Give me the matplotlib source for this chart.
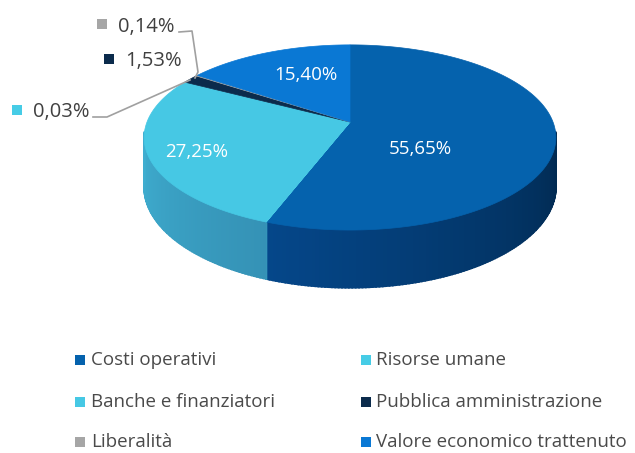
import numpy as np
import matplotlib
matplotlib.use("Agg")
import matplotlib.pyplot as plt
from matplotlib.patches import Polygon, Rectangle
from matplotlib.colors import to_rgb

categories = ["Costi operativi", "Risorse umane", "Banche e finanziatori",
              "Pubblica amministrazione", "Liberalità", "Valore economico trattenuto"]
values = [55.65, 0.03, 27.25, 1.53, 0.14, 15.40]
labels = ["55,65%", "0,03%", "27,25%", "1,53%", "0,14%", "15,40%"]
top_colors = ["#0562ad", "#46cce6", "#46c8e4", "#0b2b4c", "#a6a6a6", "#0a78d4"]
side_right = ["#01284d", "#3495b8", "#3592b6", "#061a30", "#808080", "#065aa0"]
side_left = ["#05478a", "#3bb0d0", "#3faed0", "#0a2644", "#909090", "#0868b8"]

plt.rcParams['font.family'] = ['Open Sans', 'DejaVu Sans']
fig = plt.figure(figsize=(6.35, 4.53), dpi=100)
ax = fig.add_axes([0, 0, 1, 1])
ax.set_xlim(0, 635)
ax.set_ylim(453, 0)
ax.axis('off')

# perspective pie geometry
vx, vy = 350, 122
A, B, K, D = 203, 90, 0.167, 48

def pt(theta_deg):
    t = np.radians(theta_deg)
    u, s = np.cos(t), np.sin(t)
    return vx + A * s / (1 + K * u), vy - B * u / (1 + K * u)

def dep(theta_deg):
    return D / (1 + K * np.cos(np.radians(theta_deg)))

total = sum(values)
angles = np.concatenate([[0], np.cumsum(values) / total * 360])

# side faces
lo, hi = 96, 264
for i in range(len(values)):
    s, e = max(angles[i], lo), min(angles[i + 1], hi)
    if e <= s:
        continue
    n = max(2, int((e - s) / 0.8))
    ts = np.linspace(s, e, n + 1)
    c_r = np.array(to_rgb(side_right[i]))
    c_l = np.array(to_rgb(side_left[i]))
    for k in range(n):
        t0, t1 = ts[k], ts[k + 1]
        x0, y0 = pt(t0)
        x1, y1 = pt(t1)
        f = ((0.5 * (t0 + t1)) - s) / max(e - s, 1e-9)
        col = c_r * (1 - f) + c_l * f
        ax.add_patch(Polygon([[x0, y0], [x1, y1], [x1, y1 + dep(t1)], [x0, y0 + dep(t0)]],
                             closed=True, facecolor=col, edgecolor=col, lw=1.3))

# top faces
for i in range(len(values)):
    ts = np.linspace(angles[i], angles[i + 1], max(3, int(values[i] * 4)))
    pts = [[vx, vy]] + [list(pt(t)) for t in ts]
    ax.add_patch(Polygon(pts, closed=True, facecolor=top_colors[i],
                         edgecolor=top_colors[i], lw=0.5))

# inner labels
inner = {0: (420, 149), 2: (197, 152), 5: (306, 75)}
for i, (x, y) in inner.items():
    ax.text(x, y, labels[i], color="white", fontsize=13.5, ha="center", va="center")

# outer labels with markers
outer = {4: (102, 24, 118, 27), 3: (109, 59, 125, 61), 1: (17, 110, 33, 112)}
for i, (sx, sy, tx, ty) in outer.items():
    ax.add_patch(Rectangle((sx - 5, sy - 5), 10, 10, facecolor=top_colors[i], edgecolor="none"))
    ax.text(tx, ty, labels[i], color="#404040", fontsize=14.5, ha="left", va="center")

# leader lines
lc = "#a0a0a0"
ax.plot([179, 192, 198, 195], [32, 31, 72, 78], color=lc, lw=1.2)
ax.plot([93, 107, 190], [117, 117, 80], color=lc, lw=1.2)

# legend
rows = [360, 402, 442]
cols = [(80, 91), (366, 376)]
for j, name in enumerate(categories):
    r, c = divmod(j, 2)
    sx, tx = cols[c]
    y = rows[r]
    ax.add_patch(Rectangle((sx - 5, y - 5), 10, 10, facecolor=top_colors[j], edgecolor="none"))
    ax.text(tx, y, name, color="#4a4a4a", fontsize=13.5, ha="left", va="center")

fig.savefig("out.png", dpi=100)
